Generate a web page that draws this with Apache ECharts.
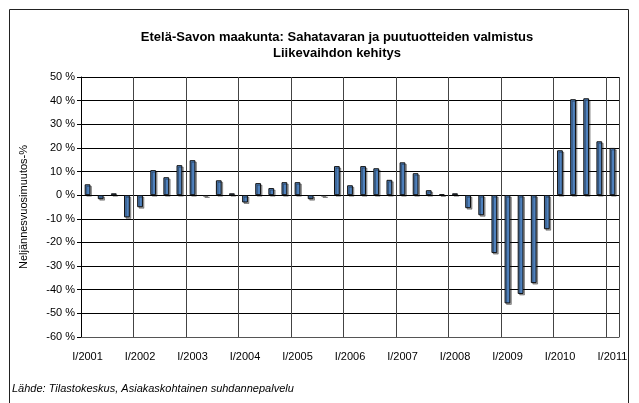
<!DOCTYPE html>
<html>
<head>
<meta charset="utf-8">
<script src="https://cdn.jsdelivr.net/npm/echarts@6/dist/echarts.min.js"></script>
<style>
  html, body { margin: 0; padding: 0; background: #fff; }
  #chart { width: 639px; height: 403px; }
</style>
</head>
<body>
<div id="chart"></div>
<script>
const years = [2001, 2002, 2003, 2004, 2005, 2006, 2007, 2008, 2009, 2010, 2011];
const quarterNames = ['I', 'II', 'III', 'IV'];

// quarterly change %, I/2001 .. I/2011
const change = [
    4.6, -1.7, 0.8, -9.4,
    -5.1, 10.6, 7.6, 12.7,
    14.8, -0.5, 6.3, 0.8,
    -3.1, 5.1, 3.0, 5.5,
    5.5, -1.7, -0.5, 12.3,
    4.2, 12.3, 11.4, 6.5,
    13.9, 9.3, 2.1, 0.4,
    0.8, -5.5, -8.5, -24.5,
    -45.8, -41.8, -37.2, -14.4,
    19.0, 40.6, 41.0, 22.8,
    20.0
];

const quarters = [];
years.forEach(y => quarterNames.forEach(q => quarters.push(q + '/' + y)));
quarters.length = change.length;

const font = "'Liberation Sans Narrow', 'Liberation Sans', Arial, sans-serif";

const chart = echarts.init(document.getElementById('chart'));
const option = {
    animation: false,
    title: {
        text: 'Etelä-Savon maakunta: Sahatavaran ja puutuotteiden valmistus\nLiikevaihdon kehitys',
        left: 332,
        top: 24,
        textAlign: 'center',
        textStyle: {
            fontFamily: font,
            fontSize: 13,
            fontWeight: 'bold',
            color: '#000',
            lineHeight: 16
        }
    },
    graphic: [
        {
            type: 'rect',
            shape: { x: 9.5, y: 9.5, width: 619, height: 420 },
            style: { fill: 'none', stroke: '#222', lineWidth: 1 }
        },
        {
            type: 'text',
            left: 12,
            top: 383,
            style: {
                text: 'Lähde: Tilastokeskus, Asiakaskohtainen suhdannepalvelu',
                font: 'italic 11px ' + font,
                fill: '#000'
            }
        }
    ],
    grid: {
        left: 81,
        right: 20,
        top: 77,
        bottom: 66
    },
    xAxis: {
        type: 'category',
        data: quarters,
        axisLine: { onZero: false, lineStyle: { color: '#555' } },
        axisTick: { show: false },
        axisLabel: {
            interval: 3,
            margin: 14,
            fontFamily: font,
            fontSize: 11,
            color: '#000'
        },
        splitLine: {
            show: true,
            interval: 3,
            lineStyle: { color: '#444', width: 1 }
        }
    },
    yAxis: {
        type: 'value',
        min: -60,
        max: 50,
        interval: 10,
        name: 'Neljännesvuosimuutos-%',
        nameLocation: 'middle',
        nameGap: 52,
        nameTextStyle: { fontFamily: font, fontSize: 11, color: '#000' },
        axisLine: { show: true, lineStyle: { color: '#000' } },
        axisTick: { show: true, length: 4, lineStyle: { color: '#000' } },
        axisLabel: {
            formatter: '{value} %',
            margin: 6,
            fontFamily: font,
            fontSize: 11,
            color: '#000'
        },
        splitLine: { lineStyle: { color: '#000', width: 1 } }
    },
    series: [
        {
            type: 'bar',
            data: change,
            barWidth: '44%',
            itemStyle: {
                color: '#4f81bd',
                borderColor: '#111',
                borderWidth: 1,
                shadowColor: 'rgba(0,0,0,0.35)',
                shadowOffsetX: 1.5,
                shadowOffsetY: 1.5
            }
        }
    ]
};
chart.setOption(option);
</script>
</body>
</html>
